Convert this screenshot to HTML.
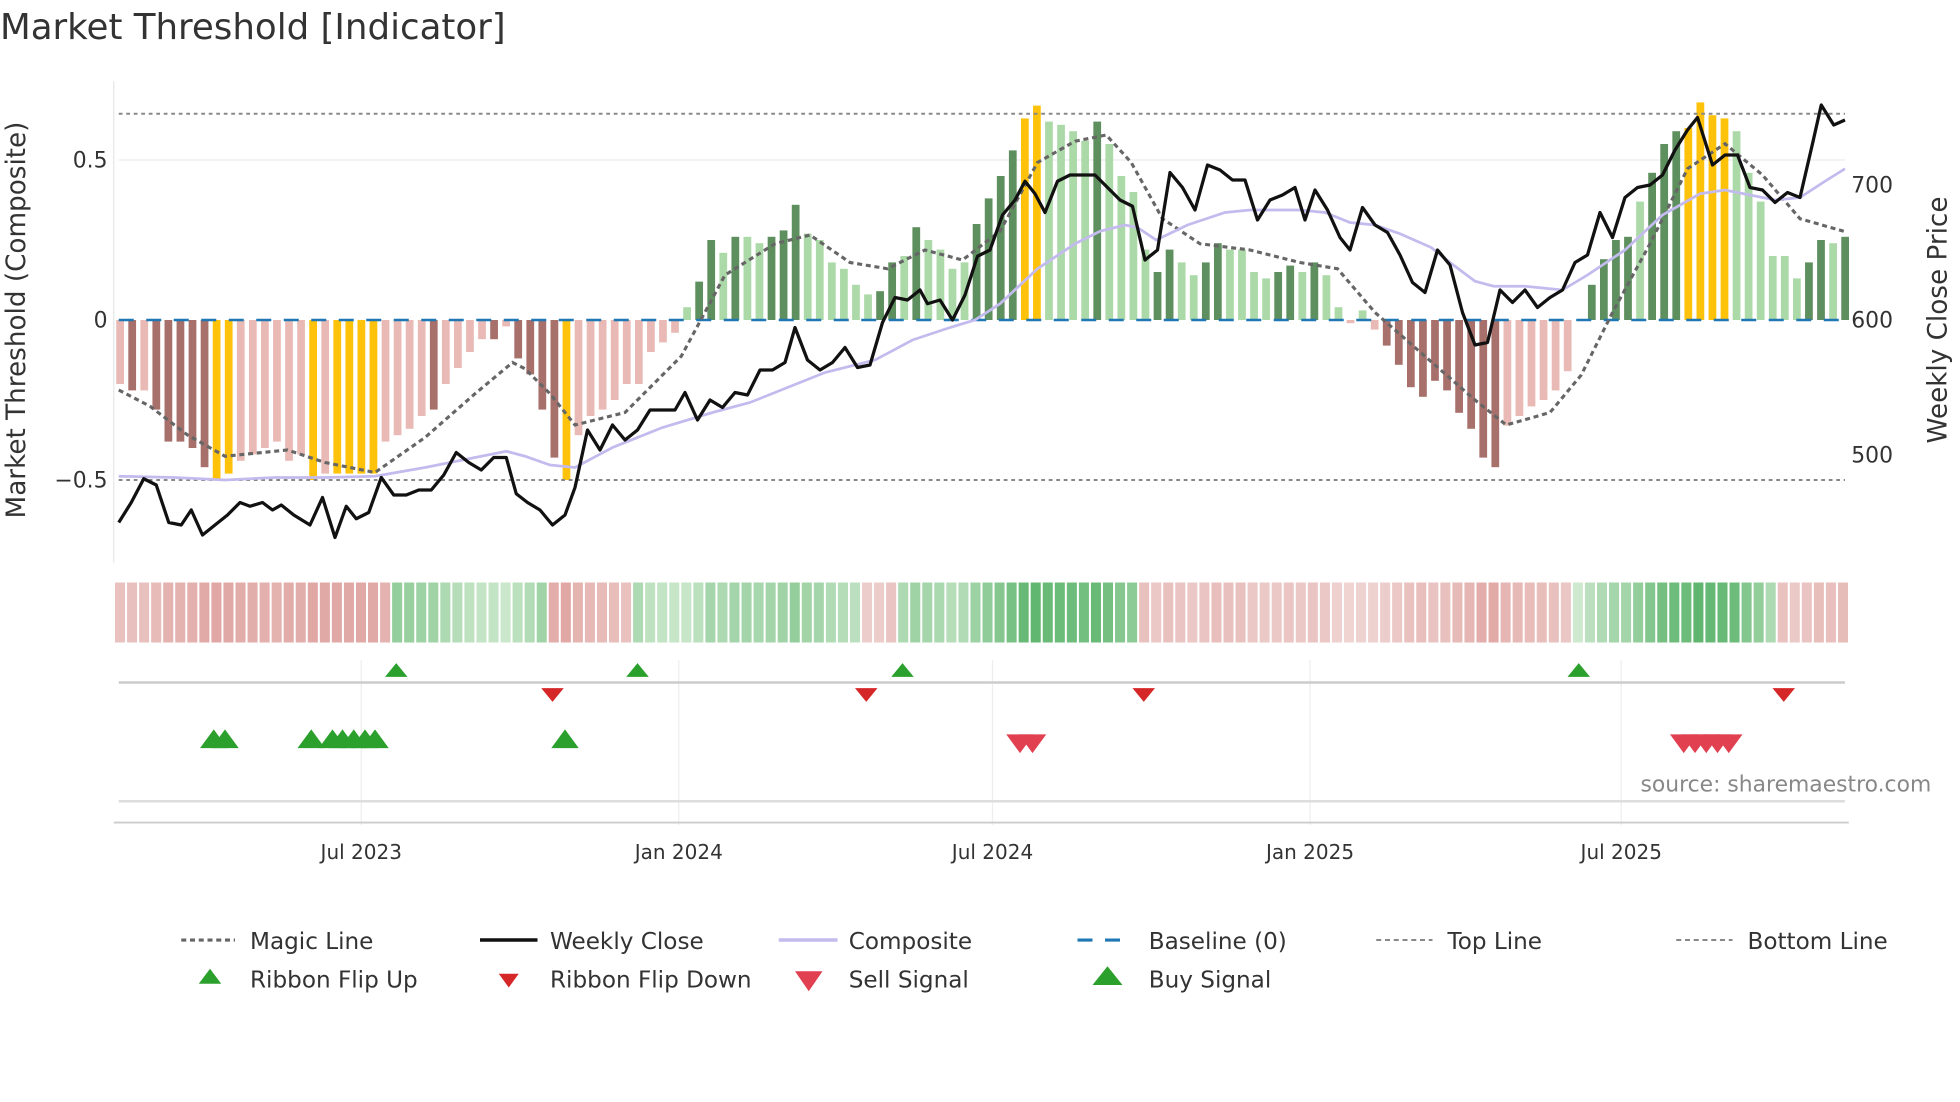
<!DOCTYPE html>
<html><head><meta charset="utf-8"><style>
html,body{margin:0;padding:0;background:#fff;}
svg{display:block;font-family:"DejaVu Sans","Liberation Sans",sans-serif;}
</style></head><body>
<svg id="s" width="1960" height="1102" viewBox="0 0 1568 881.6" xmlns="http://www.w3.org/2000/svg">
<rect width="1568" height="882" fill="#fff"/>
<text x="0" y="31" font-size="28.5" fill="#333">Market Threshold [Indicator]</text>
<line x1="91" y1="65" x2="91" y2="450" stroke="#e6e6e6"/>
<line x1="95" y1="128" x2="1476" y2="128" stroke="#eaeaf2"/>
<g id="bars"></g>
<line x1="95" y1="91" x2="1476" y2="91" stroke="#888" stroke-width="1.6" stroke-dasharray="3,3"/>
<line x1="95" y1="384" x2="1476" y2="384" stroke="#888" stroke-width="1.6" stroke-dasharray="3,3"/>
<line x1="95" y1="256" x2="1476" y2="256" stroke="#1f77b4" stroke-width="2" stroke-dasharray="12,10"/>
<g id="lines"></g>
<g font-size="17.5" fill="#333">
<text x="86" y="134" text-anchor="end">0.5</text>
<text x="86" y="262" text-anchor="end">0</text>
<text x="86" y="390" text-anchor="end">−0.5</text>
<text x="1481" y="154">700</text>
<text x="1481" y="262">600</text>
<text x="1481" y="370">500</text>
</g>
<text transform="translate(20,256) rotate(-90)" font-size="21" fill="#333" text-anchor="middle">Market Threshold (Composite)</text>
<text transform="translate(1557,256) rotate(-90)" font-size="21" fill="#333" text-anchor="middle">Weekly Close Price</text>
<g id="rib"></g>
<g stroke="#eee" stroke-width="1">
<line x1="289" y1="528" x2="289" y2="660"/><line x1="543" y1="528" x2="543" y2="660"/><line x1="794" y1="528" x2="794" y2="660"/><line x1="1048" y1="528" x2="1048" y2="660"/><line x1="1297" y1="528" x2="1297" y2="660"/>
</g>
<line x1="95" y1="546" x2="1476" y2="546" stroke="#ccc" stroke-width="2"/>
<line x1="95" y1="641" x2="1476" y2="641" stroke="#ddd" stroke-width="2"/>
<line x1="91" y1="658" x2="1479" y2="658" stroke="#ccc" stroke-width="1.5"/>
<g id="sig"></g>
<text x="1545" y="633" font-size="17.5" fill="#888" text-anchor="end">source: sharemaestro.com</text>
<g font-size="16" fill="#333" text-anchor="middle">
<text x="289" y="687">Jul 2023</text><text x="543" y="687">Jan 2024</text><text x="794" y="687">Jul 2024</text><text x="1048" y="687">Jan 2025</text><text x="1297" y="687">Jul 2025</text>
</g>
<g font-size="18.5" fill="#333">
<line x1="145" y1="752" x2="188" y2="752" stroke="#666" stroke-width="2.5" stroke-dasharray="4,3"/><text x="200" y="759">Magic Line</text>
<line x1="384" y1="752" x2="430" y2="752" stroke="#111" stroke-width="2.8"/><text x="440" y="759">Weekly Close</text>
<line x1="623" y1="752" x2="670" y2="752" stroke="#c3bbee" stroke-width="2.8"/><text x="679" y="759">Composite</text>
<line x1="862" y1="752" x2="906" y2="752" stroke="#1f77b4" stroke-width="2.5" stroke-dasharray="12,10"/><text x="919" y="759">Baseline (0)</text>
<line x1="1101" y1="752" x2="1146" y2="752" stroke="#888" stroke-width="1.6" stroke-dasharray="4,3"/><text x="1158" y="759">Top Line</text>
<line x1="1341" y1="752" x2="1386" y2="752" stroke="#888" stroke-width="1.6" stroke-dasharray="4,3"/><text x="1398" y="759">Bottom Line</text>
<polygon points="168,775 177,787 159,787" fill="#2ca02c"/><text x="200" y="790">Ribbon Flip Up</text>
<polygon points="399,779 415,779 407,790" fill="#d62728"/><text x="440" y="790">Ribbon Flip Down</text>
<polygon points="636,777 658,777 647,793" fill="#e04050"/><text x="679" y="790">Sell Signal</text>
<polygon points="886,773 898,788 874,788" fill="#2ca02c"/><text x="919" y="790">Buy Signal</text>
</g>
</svg>
<script>
const NS="http://www.w3.org/2000/svg";
function el(p,t,a){const e=document.createElementNS(NS,t);for(const k in a)e.setAttribute(k,a[k]);p.appendChild(e);return e;}
const B="-0.2 l,-0.22 d,-0.22 l,-0.28 d,-0.38 d,-0.38 d,-0.4 d,-0.46 d,-0.5 y,-0.48 y,-0.44 l,-0.42 l,-0.4 l,-0.38 l,-0.44 l,-0.42 l,-0.5 y,-0.48 l,-0.48 y,-0.48 y,-0.48 y,-0.48 y,-0.38 l,-0.36 l,-0.34 l,-0.3 l,-0.28 d,-0.2 l,-0.15 l,-0.1 l,-0.06 l,-0.06 d,-0.02 l,-0.12 d,-0.17 d,-0.28 d,-0.43 d,-0.5 y,-0.36 l,-0.3 l,-0.28 l,-0.25 l,-0.2 l,-0.2 l,-0.1 l,-0.07 l,-0.04 l,0.04 l,0.12 d,0.25 d,0.21 l,0.26 d,0.26 l,0.24 l,0.26 d,0.28 d,0.36 d,0.27 l,0.25 l,0.18 l,0.16 l,0.11 l,0.08 l,0.09 d,0.18 d,0.2 l,0.29 d,0.25 l,0.22 l,0.16 l,0.18 l,0.3 d,0.38 d,0.45 d,0.53 d,0.63 y,0.67 y,0.62 l,0.61 l,0.59 l,0.56 l,0.62 d,0.55 l,0.45 l,0.4 l,0.22 l,0.15 d,0.22 d,0.18 l,0.14 l,0.18 d,0.24 d,0.22 l,0.22 l,0.15 l,0.13 l,0.15 d,0.17 d,0.15 l,0.18 d,0.14 l,0.04 l,-0.01 l,0.03 l,-0.03 l,-0.08 d,-0.14 d,-0.21 d,-0.24 d,-0.19 d,-0.22 d,-0.29 d,-0.34 d,-0.43 d,-0.46 d,-0.33 l,-0.3 l,-0.27 l,-0.25 l,-0.22 l,-0.16 l,0 l,0.11 d,0.19 d,0.25 d,0.26 d,0.37 l,0.46 d,0.55 d,0.59 d,0.6 y,0.68 y,0.64 y,0.63 y,0.59 l,0.46 l,0.37 l,0.2 l,0.2 l,0.13 l,0.18 d,0.25 d,0.24 l,0.26 d".split(",").map(s=>{const[a,b]=s.split(" ");return[+a,b]});
const g=document.getElementById("bars");
const N=B.length, x0=96, dx=(1476-96)/(N-1);
B.forEach(([v,t],i)=>{const x=x0+i*dx;let c;
 if(t=="y")c="#ffc20a";else if(v>=0)c=t=="d"?"#5e8f5e":"#acd9a8";else c=t=="d"?"#a8706b":"#e9bab5";
 const y=256-256*v;el(g,"rect",{x:x-3,y:Math.min(y,256),width:6.2,height:Math.abs(y-256)||0.5,fill:c});});
function pl(pts,a){el(document.getElementById("lines"),"polyline",Object.assign({points:pts,fill:"none"},a));}
pl("95,312 120,325 150,348 180,365 230,360 260,370 300,378 340,350 380,315 410,290 420,295 440,315 460,340 500,330 545,285 580,220 620,195 648,188 680,210 710,215 740,200 770,208 800,185 830,130 860,113 885,108 905,130 930,175 960,195 1000,200 1040,210 1070,215 1100,250 1140,285 1180,320 1205,340 1240,330 1265,300 1290,250 1320,195 1350,135 1380,115 1410,140 1440,175 1475,185",{stroke:"#666","stroke-width":2.5,"stroke-dasharray":"4,3"});
pl("95,381 140,382 180,384 220,382 260,382 300,381 340,374 370,368 405,361 420,365 440,372 460,374 490,358 530,342 570,330 600,322 630,310 660,298 700,288 730,272 760,262 780,256 800,243 830,215 860,195 880,185 900,180 910,182 925,192 950,180 980,170 1000,168 1040,168 1060,170 1080,178 1100,180 1120,187 1145,198 1160,210 1180,225 1195,229 1220,229 1250,232 1270,220 1300,200 1330,172 1360,155 1380,152 1400,156 1420,160 1440,158 1460,145 1476,135",{stroke:"#c3bbee","stroke-width":2.2});
pl("95,418 105,402 115,383 125,388 135,418 145,420 153,408 162,428 172,420 182,412 192,402 200,405 210,402 218,408 225,404 235,412 248,420 258,398 268,430 277,405 285,415 295,410 305,382 315,396 325,396 335,392 345,392 355,380 365,362 375,370 385,376 395,366 405,366 413,395 422,402 432,408 442,420 452,412 460,390 470,344 480,360 490,340 500,352 510,344 520,328 530,328 540,328 548,314 558,336 568,320 578,326 588,314 598,316 608,296 618,296 628,290 636,262 646,288 656,296 666,290 676,278 686,294 696,292 706,258 716,238 726,240 736,232 742,243 752,240 762,256 772,236 782,205 792,200 802,172 812,160 820,145 828,155 836,170 846,145 856,140 876,140 896,160 906,165 916,208 926,200 936,138 946,150 956,168 966,132 976,136 986,144 996,144 1006,176 1016,160 1026,156 1036,150 1044,176 1052,152 1062,168 1072,190 1080,200 1090,166 1100,180 1110,186 1120,204 1130,226 1140,234 1150,200 1160,212 1170,250 1180,276 1190,274 1200,232 1210,242 1220,232 1230,246 1240,238 1250,232 1260,210 1270,204 1280,170 1290,190 1300,158 1310,150 1320,148 1330,140 1340,120 1350,104 1358,94 1370,132 1380,124 1390,124 1400,150 1410,152 1420,162 1430,154 1440,158 1450,115 1457,84 1467,100 1476,96",{stroke:"#111","stroke-width":2.6,"stroke-linejoin":"round"});
const r=document.getElementById("rib");
function mix(a,b,t){return"rgb("+a.map((v,i)=>Math.round(v+(b[i]-v)*t)).join(",")+")";}
const rdx=(1480-92)/N;
B.forEach(([v],i)=>{const x=92+i*rdx;let green;
 if(x<312)green=false;else if(x<437)green=true;else if(x<505)green=false;else if(x<688)green=true;else if(x<718)green=false;else if(x<910)green=true;else if(x<1258)green=false;else if(x<1420)green=true;else green=false;
 const t=Math.min(1,0.1+Math.abs(v)*1.0);
 const c=green?mix([222,240,220],[60,165,80],t):mix([242,222,220],[212,130,126],t);
 el(r,"rect",{x:x,y:466,width:rdx-1.6,height:48,fill:c});});
const s=document.getElementById("sig");
function up(x,y,w,h,c){el(s,"polygon",{points:`${x},${y-h/2} ${x+w/2},${y+h/2} ${x-w/2},${y+h/2}`,fill:c});}
function dn(x,y,w,h,c){el(s,"polygon",{points:`${x-w/2},${y-h/2} ${x+w/2},${y-h/2} ${x},${y+h/2}`,fill:c});}
[317,510,722,1263].forEach(x=>up(x,536,18,11,"#2ca02c"));
[442,693,915,1427].forEach(x=>dn(x,556,18,11,"#d62728"));
[171,180,249,266,274,283,292,300,452].forEach(x=>up(x,591,22,15,"#2ca02c"));
[816,826,1347,1356,1365,1374,1383].forEach(x=>dn(x,595,22,15,"#e04050"));
</script>
</body></html>
